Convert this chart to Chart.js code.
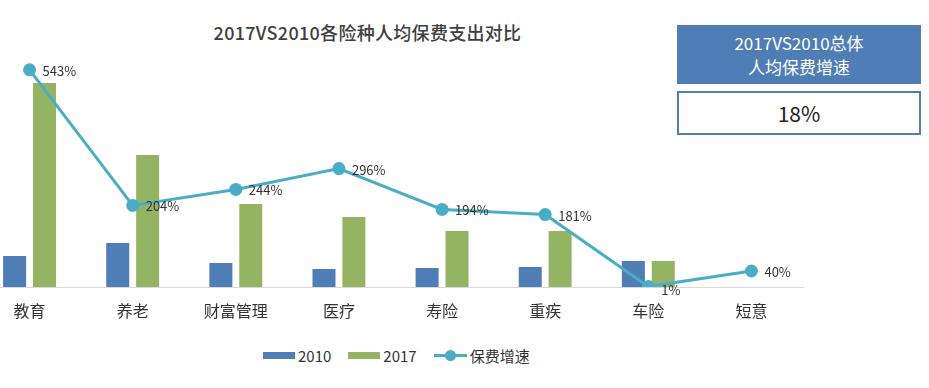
<!DOCTYPE html>
<html>
<head>
<meta charset="utf-8">
<script src="https://cdn.jsdelivr.net/npm/chart.js@4/dist/chart.umd.min.js"></script>
<style>
  body { margin: 0; background: #fff; width: 929px; height: 388px; overflow: hidden; position: relative;
         font-family: "Noto Sans CJK SC", "Noto Sans", sans-serif; }
  #wrap { position: absolute; left: -30px; top: 0; width: 841px; height: 330px; }
  #title { position: absolute; left: 160px; width: 415px; top: 19px; text-align: center;
           font-size: 18px; font-weight: 500; color: #404040; letter-spacing: 0.3px; }
  #boxTop { position: absolute; left: 677px; top: 25px; width: 244px; height: 59px; background: #4f7db5;
            color: #fff; font-size: 17px; line-height: 24px; text-align: center; padding-top: 6px; box-sizing: border-box; }
  #boxBottom { position: absolute; left: 677px; top: 91px; width: 244px; height: 44px; border: 2px solid #4f7db5;
               box-sizing: border-box; text-align: center; font-size: 21px; line-height: 40px; color: #222; }
  #legend { position: absolute; left: 263px; top: 345px; height: 20px; display: flex; align-items: center;
            font-size: 15px; color: #333; }
  .sw { width: 32px; height: 7px; margin-right: 3px; }
  .item { display: flex; align-items: center; margin-right: 17px; }
  .ln { position: relative; width: 33px; height: 3px; background: #4bacc6; margin-right: 3px; }
  .ln::after { content: ""; position: absolute; left: 11px; top: -4px; width: 11px; height: 11px; border-radius: 50%; background: #4bacc6; }
</style>
</head>
<body>
<div id="title">2017VS2010各险种人均保费支出对比</div>
<div id="boxTop">2017VS2010总体<br>人均保费增速</div>
<div id="boxBottom">18%</div>
<div id="wrap"><canvas id="chart" width="841" height="330"></canvas></div>
<div id="legend">
  <div class="item"><div class="sw" style="background:#4f7db5"></div>2010</div>
  <div class="item"><div class="sw" style="background:#94b463"></div>2017</div>
  <div class="item" style="margin-right:0"><div class="ln"></div>保费增速</div>
</div>
<script>
// categories and values (bar values in relative units)
const categories = ['教育', '养老', '财富管理', '医疗', '寿险', '重疾', '车险', '短意'];
const values2010 = [31, 44, 24, 18, 19, 20, 26, 0];
const values2017 = [204, 132, 83, 70, 56, 56, 26, 0];
const growth = [543, 204, 244, 296, 194, 181, 1, 40];

const blue = '#4f7db5';
const green = '#94b463';
const teal = '#4bacc6';

// data labels to the right of each line point
const labelPlugin = {
    id: 'lineLabels',
    afterDatasetsDraw(chart) {
        const ctx = chart.ctx;
        const meta = chart.getDatasetMeta(2);
        ctx.save();
        ctx.font = '13px "Noto Sans CJK SC", sans-serif';
        ctx.fillStyle = '#333';
        ctx.textBaseline = 'middle';
        meta.data.forEach((pt, i) => {
            const dy = growth[i] < 5 ? 3 : 1;
            ctx.fillText(growth[i] + '%', pt.x + 13, pt.y + dy);
        });
        ctx.restore();
    }
};

const ctx = document.getElementById('chart').getContext('2d');
new Chart(ctx, {
    data: {
        labels: categories,
        datasets: [
            {
                type: 'bar',
                label: '2010',
                data: values2010,
                backgroundColor: blue,
                yAxisID: 'y',
                order: 1,
                categoryPercentage: 0.58,
                barPercentage: 0.77
            },
            {
                type: 'bar',
                label: '2017',
                data: values2017,
                backgroundColor: green,
                yAxisID: 'y',
                order: 2,
                categoryPercentage: 0.58,
                barPercentage: 0.77
            },
            {
                type: 'line',
                label: '保费增速',
                data: growth,
                borderColor: teal,
                backgroundColor: teal,
                borderWidth: 3,
                pointRadius: 5,
                pointHoverRadius: 5,
                yAxisID: 'y2',
                order: 0,
                tension: 0
            }
        ]
    },
    options: {
        responsive: false,
        animation: false,
        devicePixelRatio: 1,
        layout: { padding: { top: 60, left: 0, right: 0, bottom: 0 } },
        plugins: {
            legend: { display: false },
            tooltip: { enabled: false },
            title: { display: false }
        },
        scales: {
            x: {
                grid: { display: false, drawTicks: false },
                border: { display: true, color: '#d9d9d9', width: 1 },
                ticks: {
                    color: '#333',
                    padding: 14,
                    font: { size: 16, family: '"Noto Sans CJK SC", sans-serif' }
                },
                afterFit(scale) { scale.height = 43; }
            },
            y: { display: false, min: 0, max: 227 },
            y2: { display: false, min: 0, max: 567.5, position: 'right' }
        }
    },
    plugins: [labelPlugin]
});
</script>
</body>
</html>
